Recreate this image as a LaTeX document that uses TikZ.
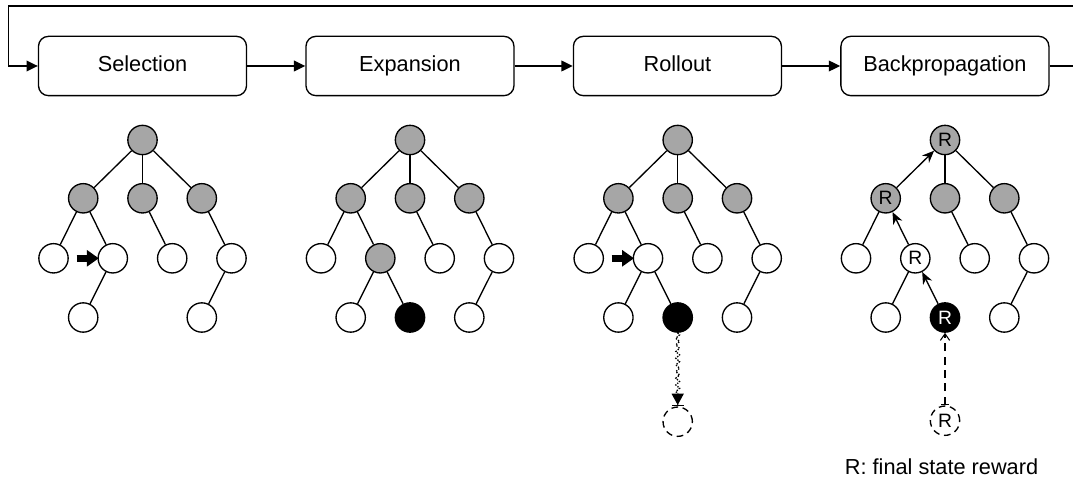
\documentclass[tikz,border=0pt]{standalone}
\usepackage{fontspec}
\setmainfont{Liberation Sans}
\usetikzlibrary{arrows.meta}
\usetikzlibrary{decorations.pathmorphing}
\usetikzlibrary{positioning}

\begin{document}
\begin{tikzpicture}[x=0.75pt,y=-0.75pt,line width=1pt,
  phase/.style={draw,rounded corners=7.5pt,minimum width=156pt,minimum height=44.5pt,
    inner sep=0pt,text height=11.5pt,text depth=3.5pt,font=\fontsize{16.3}{19}\selectfont},
  flow/.style={-{Triangle[length=8.5pt,width=8pt]}},
  st/.style={circle,draw,minimum size=22pt,inner sep=0pt,font=\fontsize{14.5}{17}\selectfont},
  wst/.style={st,fill=white},
  gst/.style={st,fill=black!35},
  bst/.style={st,fill=black,text=white},
  ghost/.style={st,dash pattern=on 5pt off 3.5pt},
  ptr/.style={line width=5pt,-{Triangle[length=9pt,width=12pt]},shorten >=-1pt},
  up/.style={-{Stealth[length=9pt,width=7.5pt]}}]
  \useasboundingbox (0,0) rectangle (1073,477);

  % phases
  \node[phase] (sel) at (142.5,66) {Selection};
  \node[phase,right=43.6pt of sel] (exp) {Expansion};
  \node[phase,right=43.6pt of exp] (roll) {Rollout};
  \node[phase,right=43.6pt of roll] (back) {Backpropagation};
  \draw[flow] (sel) -- (exp);
  \draw[flow] (exp) -- (roll);
  \draw[flow] (roll) -- (back);
  % loop back (leaves the page on the right)
  \coordinate (rout) at (1073,66);
  \coordinate (rin) at (1073,6);
  \coordinate (loopl) at (8.7,6);
  \draw (back.east) -- (rout);
  \draw[flow] (rin) -- (loopl) |- (sel.west);

  % Selection
  \begin{scope}[shift={(142.5,0)}]
    \node[gst] (s0) at (0,140) {};
    \foreach \n/\x in {1/-59.3,2/0,3/59.3}
      \node[gst] (s\n) at (\x,198.3) {};
    \foreach \n/\x in {4/-89,5/-29.7,6/29.7,7/89}
      \node[wst] (s\n) at (\x,258.3) {};
    \foreach \n/\x in {8/-59.3,9/59.3}
      \node[wst] (s\n) at (\x,317.5) {};
    \foreach \a/\b in {0/1,0/2,0/3,1/4,1/5,2/6,3/7,5/8,7/9}
      \draw (s\a) -- (s\b);
    \coordinate (sptr) at (-66,258.3);
    \draw[ptr] (sptr) -- (s5);
  \end{scope}

  % Expansion
  \begin{scope}[shift={(410,0)}]
    \node[gst] (e0) at (0,140) {};
    \foreach \n/\x in {1/-59.3,2/0,3/59.3}
      \node[gst] (e\n) at (\x,198.3) {};
    \foreach \n/\x/\s in {4/-89/wst,5/-29.7/gst,6/29.7/wst,7/89/wst}
      \node[\s] (e\n) at (\x,258.3) {};
    \foreach \n/\x/\s in {8/-59.3/wst,9/0/bst,10/59.3/wst}
      \node[\s] (e\n) at (\x,317.5) {};
    \foreach \a/\b in {0/1,0/2,0/3,1/4,1/5,2/6,3/7,5/8,5/9,7/10}
      \draw (e\a) -- (e\b);
  \end{scope}

  % Rollout
  \begin{scope}[shift={(677.7,0)}]
    \node[gst] (r0) at (0,140) {};
    \foreach \n/\x in {1/-59.3,2/0,3/59.3}
      \node[gst] (r\n) at (\x,198.3) {};
    \foreach \n/\x in {4/-89,5/-29.7,6/29.7,7/89}
      \node[wst] (r\n) at (\x,258.3) {};
    \foreach \n/\x/\s in {8/-59.3/wst,9/0/bst,10/59.3/wst}
      \node[\s] (r\n) at (\x,317.5) {};
    \foreach \a/\b in {0/1,0/2,0/3,1/4,1/5,2/6,3/7,5/8,5/9,7/10}
      \draw (r\a) -- (r\b);
    \coordinate (rptr) at (-66,258.3);
    \draw[ptr] (rptr) -- (r5);
    \node[ghost] (rz) at (0,421.7) {};
    % simulation
    \draw[densely dotted,decorate,
      decoration={snake,amplitude=1.4pt,segment length=5pt,post length=9pt},
      -{Triangle[length=8.5pt,width=9pt]Bar[width=9pt]}] (r9) -- (rz);
  \end{scope}

  % Backpropagation
  \begin{scope}[shift={(945,0)}]
    \node[gst] (b0) at (0,140) {R};
    \foreach \n/\x/\t in {1/-59.3/R,2/0/,3/59.3/}
      \node[gst] (b\n) at (\x,198.3) {\t};
    \foreach \n/\x/\t in {4/-89/,5/-29.7/R,6/29.7/,7/89/}
      \node[wst] (b\n) at (\x,258.3) {\t};
    \foreach \n/\x/\s/\t in {8/-59.3/wst/,9/0/bst/R,10/59.3/wst/}
      \node[\s] (b\n) at (\x,317.5) {\t};
    \foreach \a/\b in {0/2,0/3,1/4,2/6,3/7,5/8,7/10}
      \draw (b\a) -- (b\b);
    \foreach \a/\b in {1/0,5/1,9/5}
      \draw[up] (b\a) -- (b\b);
    \node[ghost] (bz) at (0,420.7) {R};
    \draw[line width=0.8pt,dash pattern=on 6pt off 4pt,
      {Bar[width=6pt]}-{Straight Barb[length=5pt,width=7pt]}] (bz) -- (b9);
  \end{scope}

  \node[font=\fontsize{16.3}{19}\selectfont] (legend) at (941.5,466.7) {R: final state reward};
\end{tikzpicture}
\end{document}
